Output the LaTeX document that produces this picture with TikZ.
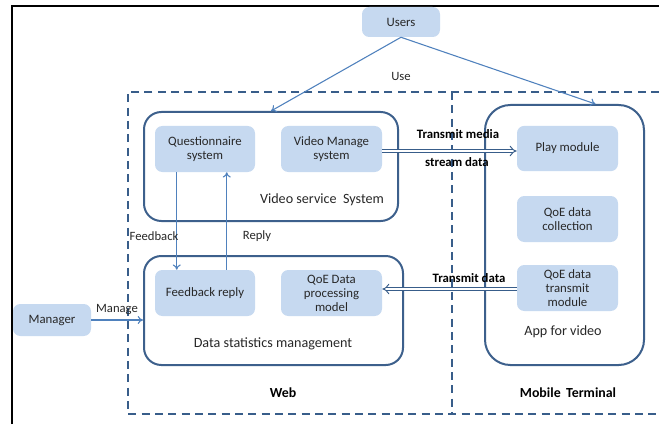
\documentclass[tikz,border=0pt]{standalone}
\usepackage{fontspec}
\setmainfont{Carlito}
\usetikzlibrary{arrows.meta,calc}
\definecolor{boxfill}{RGB}{198,217,240}
\definecolor{rimblue}{RGB}{61,96,140}
\definecolor{arrblue}{RGB}{79,129,189}
\definecolor{dashblue}{RGB}{56,93,138}
\definecolor{txt}{RGB}{40,40,40}
\begin{document}
\begin{tikzpicture}[x=0.75pt,y=-0.75pt,
  smallbox/.style={draw=none,fill=boxfill,rounded corners=5.5pt,align=center,text=txt,
     font=\fontsize{9.6}{10.5}\selectfont,inner sep=0pt},
  bigrim/.style={draw=rimblue,line width=1.5pt,rounded corners=13pt,inner sep=0pt},
  conn/.style={draw=arrblue,line width=0.8pt,-{To[length=4pt,width=6pt]}},
  dbl/.style={draw=dashblue,double=white,double distance=2pt,line width=0.7pt,-{Implies}},
  lbl/.style={text=txt,font=\fontsize{9.5}{11}\selectfont,inner sep=0pt},
  blbl/.style={text=black,font=\bfseries\fontsize{9.6}{11}\selectfont,inner sep=0pt},
  dashedline/.style={draw=dashblue,line width=1.4pt,dash pattern=on 6pt off 4pt}]
\useasboundingbox (0,0) rectangle (659,424);
\fill[white] (0,0) rectangle (659,424);
% black frame
\draw[black,line width=1.2pt] (12,424) -- (12,6) -- (659,6);
% outer dashed frame
\draw[dashedline] (659,92) -- (128,92) -- (128,414) -- (659,414);
\draw[dashedline] (452,92) -- (452,414);
% big containers
\node[bigrim,minimum width=190.5pt,minimum height=81.75pt] (vss) at (271,166.5) {};
\node[bigrim,minimum width=194.25pt,minimum height=81.75pt] (dsm) at (273.5,310.5) {};
\node[bigrim,rounded corners=19pt,minimum width=119.25pt,minimum height=195pt] (app) at (564.5,235) {};
% small boxes
\node[smallbox,minimum width=58.5pt,minimum height=22.5pt] (users) at (401,22) {Users};
\node[smallbox,minimum width=58.5pt,minimum height=24pt] (man) at (52,320) {Manager};
\node[smallbox,minimum width=75pt,minimum height=34.5pt] (q) at (205,149) {Questionnaire\\system};
\node[smallbox,minimum width=75.75pt,minimum height=34.5pt] (vm) at (331.5,149) {Video Manage\\system};
\node[smallbox,minimum width=75pt,minimum height=34.5pt] (fr) at (205,293) {Feedback reply};
\node[smallbox,minimum width=75.75pt,minimum height=34.5pt] (qp) at (331.5,293) {QoE Data\\processing\\model};
\node[smallbox,minimum width=75.75pt,minimum height=34pt] (play) at (567.5,148.5) {Play module};
\node[smallbox,minimum width=75.75pt,minimum height=34.5pt] (qc) at (567.5,219) {QoE data\\collection};
\node[smallbox,minimum width=75.75pt,minimum height=34.5pt] (qt) at (567.5,288) {QoE data\\transmit\\module};
% container captions
\node[lbl,font=\fontsize{10.6}{12}\selectfont] (vsslbl) at (322,200) {Video service\ \ System};
\node[lbl,font=\fontsize{10.6}{12}\selectfont] (dsmlbl) at (273,344) {Data statistics management};
\node[lbl,font=\fontsize{10.6}{12}\selectfont] (applbl) at (563,332) {App for video};
\node[blbl,font=\bfseries\fontsize{10.4}{12}\selectfont] (web) at (283,393) {Web};
\node[blbl,font=\bfseries\fontsize{10.4}{12}\selectfont] (mob) at (568,393) {Mobile\ \,Terminal};
% connectors
\coordinate (appin) at ($(app.north)+(31,0)$);
\draw[conn] (users.south) -- (vss.north);
\draw[conn] (users.south) -- (appin);
\node[lbl] (use) at (401,76) {Use};
\coordinate (fbtop) at ($(q.south west)+(22,0)$);
\coordinate (fbbot) at ($(fr.north west)+(22,0)$);
\coordinate (rptop) at ($(q.south west)+(72,0)$);
\coordinate (rpbot) at ($(fr.north west)+(72,0)$);
\draw[conn] (fbtop) -- (fbbot);
\draw[conn] (rpbot) -- (rptop);
\node[lbl] (fblbl) at (154,236) {Feedback};
\node[lbl] (rplbl) at (257,236) {Reply};
\draw[conn] (man.east) -- (man.east -| dsm.west);
\node[lbl] (manlbl) at (117,310) {Manage};
\coordinate (vmout) at ($(vm.east)+(0,2)$);
\draw[dbl] (vmout) -- (vmout -| play.west);
\node[blbl] (tm) at (458,134) {Transmit media};
\node[blbl] (sd) at (457,162) {stream data};
\coordinate (qtout) at ($(qt.west)+(0,1)$);
\draw[dbl] (qtout) -- (qtout -| qp.east);
\node[blbl] (td) at (469,278) {Transmit data};
\end{tikzpicture}
\end{document}
